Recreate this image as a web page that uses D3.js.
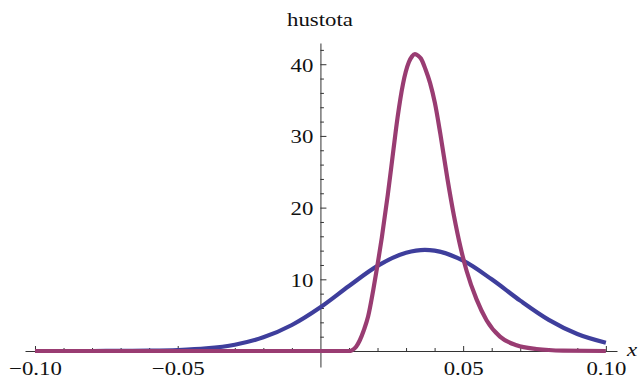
<!DOCTYPE html>
<html>
<head>
<meta charset="utf-8">
<script src="https://cdn.jsdelivr.net/npm/d3@7"></script>
<style>
  html, body { margin: 0; padding: 0; background: #fff; }
  svg { display: block; }
  text { font-family: "Liberation Serif", "Times New Roman", serif; fill: #111; }
</style>
</head>
<body>
<div id="chart"></div>
<script>
// values
const blueX = [-0.10, -0.09, -0.08, -0.07, -0.06, -0.05, -0.04, -0.03, -0.02, -0.01, 0.00,
               0.01, 0.02, 0.03, 0.0366, 0.04, 0.05, 0.06, 0.07, 0.08, 0.09, 0.10];
const blueY = [0.0001, 0.0006, 0.003, 0.012, 0.041, 0.13, 0.36, 0.88, 1.91, 3.63, 6.1,
               9.06, 11.87, 13.7, 14.1, 14.0, 12.6, 10.0, 7.03, 4.35, 2.38, 1.16];

const purpleX = [-0.10, 0.0100, 0.0110, 0.0125, 0.0138, 0.0152, 0.0167, 0.0185, 0.0200, 0.0215,
                 0.0236, 0.0254, 0.0270, 0.0289, 0.0310, 0.0321, 0.0331, 0.0342, 0.0352, 0.0368,
                 0.0384, 0.0401, 0.0420, 0.0445, 0.0468, 0.0490, 0.0512, 0.0547, 0.0582, 0.0629,
                 0.0687, 0.0757, 0.0850, 0.10];
const purpleY = [0, 0, 0.1, 0.6, 1.5, 2.9, 4.8, 8.5, 12.0, 15.8,
                 21.8, 27.5, 32.5, 37.2, 40.3, 41.1, 41.4, 41.2, 40.8, 39.3,
                 37.4, 34.6, 30.3, 24.0, 18.8, 14.6, 11.2, 7.2, 4.3, 2.0,
                 0.8, 0.28, 0.05, 0];

const xMajorTicks = [-0.10, -0.05, 0.05, 0.10];
const xMinorTicks = [-0.09, -0.08, -0.07, -0.06, -0.04, -0.03, -0.02, -0.01,
                     0.01, 0.02, 0.03, 0.04, 0.06, 0.07, 0.08, 0.09];
const yMajorTicks = [10, 20, 30, 40];
const yMinorTicks = [2, 4, 6, 8, 12, 14, 16, 18, 22, 24, 26, 28, 32, 34, 36, 38, 42];

const width = 639;
const height = 378;
const stretch = 1.17; // text in the picture is drawn a bit wide

const svg = d3.select('#chart').append('svg')
    .attr('width', width)
    .attr('height', height);

const x = d3.scaleLinear().domain([-0.1035, 0.1039]).range([25, 617]);
const y = d3.scaleLinear().domain([-2.23, 42.96]).range([367, 43]);

const axisColor = '#333';

// x axis (ticks point up)
const xMinor = svg.append('g')
    .attr('transform', `translate(0,${y(0)})`)
    .call(d3.axisBottom(x).tickValues(xMinorTicks).tickSizeInner(-3).tickSizeOuter(0).tickFormat(''));
const xMajor = svg.append('g')
    .attr('transform', `translate(0,${y(0)})`)
    .call(d3.axisBottom(x).tickValues(xMajorTicks).tickSizeInner(-5).tickSizeOuter(0)
        .tickPadding(10).tickFormat(d3.format('.2f')));

// y axis (ticks point right)
const yMinor = svg.append('g')
    .attr('transform', `translate(${x(0)},0)`)
    .call(d3.axisLeft(y).tickValues(yMinorTicks).tickSizeInner(-3.5).tickSizeOuter(0).tickFormat(''));
const yMajor = svg.append('g')
    .attr('transform', `translate(${x(0)},0)`)
    .call(d3.axisLeft(y).tickValues(yMajorTicks).tickSizeInner(-6).tickSizeOuter(0)
        .tickPadding(7).tickFormat(d3.format('d')));

[xMinor, xMajor, yMinor, yMajor].forEach(g => {
    g.selectAll('path, line').attr('stroke', axisColor).attr('stroke-width', 1);
    g.selectAll('text').attr('font-size', 19.5).attr('font-family', null);
});
yMajor.selectAll('text').attr('dy', '0.35em');
xMinor.select('.domain').remove();
yMinor.select('.domain').remove();

// curves
const line = d3.line()
    .x(d => x(d[0]))
    .y(d => y(d[1]))
    .curve(d3.curveMonotoneX);

svg.append('path')
    .datum(d3.zip(blueX, blueY))
    .attr('fill', 'none')
    .attr('stroke', '#3e3e9c')
    .attr('stroke-width', 4.2)
    .attr('stroke-linejoin', 'round')
    .attr('d', line);

svg.append('path')
    .datum(d3.zip(purpleX, purpleY))
    .attr('fill', 'none')
    .attr('stroke', '#993c72')
    .attr('stroke-width', 4.2)
    .attr('stroke-linejoin', 'round')
    .attr('d', line);

// axis labels
svg.append('text')
    .attr('x', 287)
    .attr('y', 26)
    .attr('font-size', 19.5)
    .text('hustota');

svg.append('text')
    .attr('x', 627)
    .attr('y', 356)
    .attr('font-size', 19.5)
    .attr('font-style', 'italic')
    .text('x');

// widen every text around its own anchor
svg.selectAll('text').each(function() {
    const t = d3.select(this);
    const tx = +t.attr('x') || 0;
    const ty = +t.attr('y') || 0;
    t.attr('x', 0).attr('y', 0)
        .attr('transform', `translate(${tx},${ty}) scale(${stretch},1)`);
});
</script>
</body>
</html>
